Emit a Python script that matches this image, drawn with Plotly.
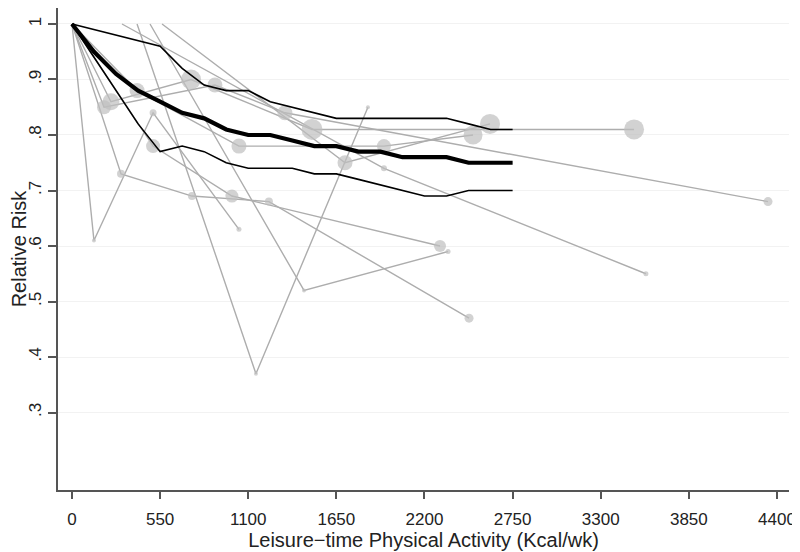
import plotly.graph_objects as go

# ---------------- pooled dose-response curve (kcal/wk grid) ----------------
grid_kcal = [0, 137.5, 275, 412.5, 550, 687.5, 825, 962.5, 1100, 1237.5, 1375,
             1512.5, 1650, 1787.5, 1925, 2062.5, 2200, 2337.5, 2475, 2612.5, 2750]
pooled_rr = [1.00, .95, .91, .88, .86, .84, .83, .81, .80, .80, .79,
             .78, .78, .77, .77, .76, .76, .76, .75, .75, .75]
pooled_hi = [1.00, .99, .98, .97, .96, .92, .89, .88, .88, .86, .85,
             .84, .83, .83, .83, .83, .83, .83, .82, .81, .81]
pooled_lo = [1.00, .94, .88, .82, .77, .78, .77, .75, .74, .74, .74,
             .73, .73, .72, .71, .70, .69, .69, .70, .70, .70]

# ---------------- individual studies (first point = reference, RR 1) -------
s1_kcal = [0, 306, 749, 1229, 2478]
s1_rr = [1, .73, .69, .68, .47]
s1_w = [0, 8, 8, 8, 9]

s2_kcal = [0, 137, 506, 1042]
s2_rr = [1, .61, .84, .63]
s2_w = [0, 4, 7, 5]

s3_kcal = [406, 1148, 1847]
s3_rr = [1, .37, .85]
s3_w = [0, 4, 4]

s4_kcal = [487, 1448, 2347]
s4_rr = [1, .52, .59]
s4_w = [0, 4, 5]

s5_kcal = [0, 506, 998, 2297]
s5_rr = [1, .78, .69, .60]
s5_w = [0, 14, 13, 12]

s6_kcal = [0, 243, 743, 1498, 3508]
s6_rr = [1, .86, .90, .81, .81]
s6_w = [0, 17, 20, 21, 20]

s7_kcal = [0, 200, 892, 1329, 4344]
s7_rr = [1, .85, .89, .84, .68]
s7_w = [0, 14, 15, 15, 9]

s8_kcal = [562, 1704, 2609]
s8_rr = [1, .75, .82]
s8_w = [0, 15, 20]

s9_kcal = [312, 1947, 3582]
s9_rr = [1, .74, .55]
s9_w = [0, 6, 5]

s10_kcal = [0, 406, 1042, 1947, 2503]
s10_rr = [1, .88, .78, .78, .80]
s10_w = [0, 15, 15, 14, 19]

x_ticks = [0, 550, 1100, 1650, 2200, 2750, 3300, 3850, 4400]
y_ticks = [1, .9, .8, .7, .6, .5, .4, .3]
y_ticktext = ["1", ".9", ".8", ".7", ".6", ".5", ".4", ".3"]

studies = [(s1_kcal, s1_rr, s1_w), (s2_kcal, s2_rr, s2_w), (s3_kcal, s3_rr, s3_w),
           (s4_kcal, s4_rr, s4_w), (s5_kcal, s5_rr, s5_w), (s6_kcal, s6_rr, s6_w),
           (s7_kcal, s7_rr, s7_w), (s8_kcal, s8_rr, s8_w), (s9_kcal, s9_rr, s9_w),
           (s10_kcal, s10_rr, s10_w)]

GRAY_LINE = "#adadad"
GRAY_MARK = "#bfbfbf"

fig = go.Figure()
for kx, rr, w in studies:
    fig.add_trace(go.Scatter(x=kx, y=rr, mode="lines",
                             line=dict(color=GRAY_LINE, width=1.4),
                             showlegend=False, hoverinfo="skip"))
for kx, rr, w in studies:
    fig.add_trace(go.Scatter(x=kx[1:], y=rr[1:], mode="markers",
                             marker=dict(color=GRAY_MARK, size=w[1:], line=dict(width=0)),
                             showlegend=False, hoverinfo="skip"))

fig.add_trace(go.Scatter(x=grid_kcal, y=pooled_hi, mode="lines",
                         line=dict(color="black", width=1.6), showlegend=False))
fig.add_trace(go.Scatter(x=grid_kcal, y=pooled_lo, mode="lines",
                         line=dict(color="black", width=1.6), showlegend=False))
fig.add_trace(go.Scatter(x=grid_kcal, y=pooled_rr, mode="lines",
                         line=dict(color="black", width=4.2), showlegend=False))

fig.update_layout(
    width=792, height=544,
    margin=dict(l=50, r=11, t=0, b=62),
    paper_bgcolor="white", plot_bgcolor="white",
    font=dict(family="Liberation Sans, Arial, sans-serif", size=17, color="#222"),
    xaxis=dict(range=[-87.4, 4475], tickvals=x_ticks, showgrid=False, zeroline=False,
               automargin=False, ticklabelstandoff=6,
               showline=True, linecolor="#555", linewidth=1.5,
               ticks="outside", ticklen=7, tickwidth=1.5, tickcolor="#555",
               title=dict(text="Leisure\u2212time Physical Activity (Kcal/wk)", standoff=2)),
    yaxis=dict(range=[0.1604, 1.0288], tickvals=y_ticks, ticktext=y_ticktext,
               automargin=False,
               tickangle=-90, showgrid=True, gridcolor="#f2f2f2", gridwidth=1,
               zeroline=False, showline=True, linecolor="#555", linewidth=1.5,
               ticks="outside", ticklen=8, tickwidth=1.5, tickcolor="#555",
               title=dict(text="Relative Risk", standoff=4)),
)

fig.write_html("out.html")
